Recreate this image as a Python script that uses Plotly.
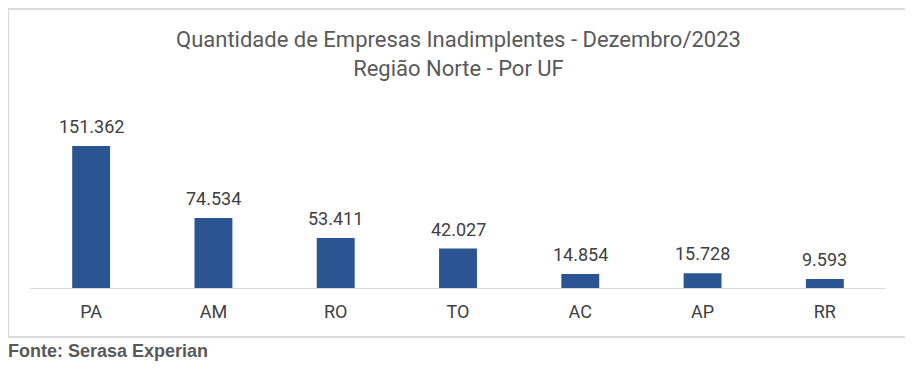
import plotly.graph_objects as go

categories = ["PA", "AM", "RO", "TO", "AC", "AP", "RR"]
values = [151362, 74534, 53411, 42027, 14854, 15728, 9593]
value_labels = ["151.362", "74.534", "53.411", "42.027", "14.854", "15.728", "9.593"]

OFF = 8  # page body margin
W, H = 913 - OFF, 370 - OFF


def px(x):
    return (x - OFF) / W


def py(y):
    return 1 - (y - OFF) / H


fig = go.Figure(go.Bar(
    x=categories, y=values,
    marker=dict(color="#2A5592", line=dict(width=0)),
    cliponaxis=False, hoverinfo="x+y",
))

annotations = [
    dict(x=c, y=v, text=t, xref="x", yref="y", xanchor="center", yanchor="bottom",
         yshift=7, showarrow=False, font=dict(family="Roboto", size=18, color="#404040"))
    for c, v, t in zip(categories, values, value_labels)
]
annotations += [
    dict(text="Quantidade de Empresas Inadimplentes - Dezembro/2023<br>Região Norte - Por UF",
         xref="paper", yref="paper", x=px(458), y=py(54), xanchor="center", yanchor="middle",
         showarrow=False, font=dict(family="Roboto", size=22, color="#595959")),
    dict(text="<b>Fonte: Serasa Experian</b>", xref="paper", yref="paper",
         x=px(6), y=py(351), xanchor="left", yanchor="middle", showarrow=False,
         font=dict(family="Liberation Sans", size=18, color="#595959")),
]

fig.update_layout(
    width=W, height=H,
    margin=dict(l=0, r=0, t=0, b=0),
    paper_bgcolor="white", plot_bgcolor="white",
    bargap=0.69,
    showlegend=False,
    font=dict(family="Roboto", color="#404040"),
    xaxis=dict(domain=[px(30), px(886)], showline=True, linecolor="#D9D9D9", linewidth=1,
               ticks="", ticklabelstandoff=7,
               tickfont=dict(family="Roboto", size=18, color="#404040"),
               showgrid=False, fixedrange=True),
    yaxis=dict(domain=[py(288), py(100)], range=[0, 151362 * 188 / 142],
               visible=False, showgrid=False, fixedrange=True),
    shapes=[dict(type="rect", xref="paper", yref="paper",
                 x0=px(8), x1=px(908), y0=py(337), y1=py(9),
                 line=dict(color="#D9D9D9", width=2), fillcolor="rgba(0,0,0,0)")],
    annotations=annotations,
)
fig.write_html("out.html")
